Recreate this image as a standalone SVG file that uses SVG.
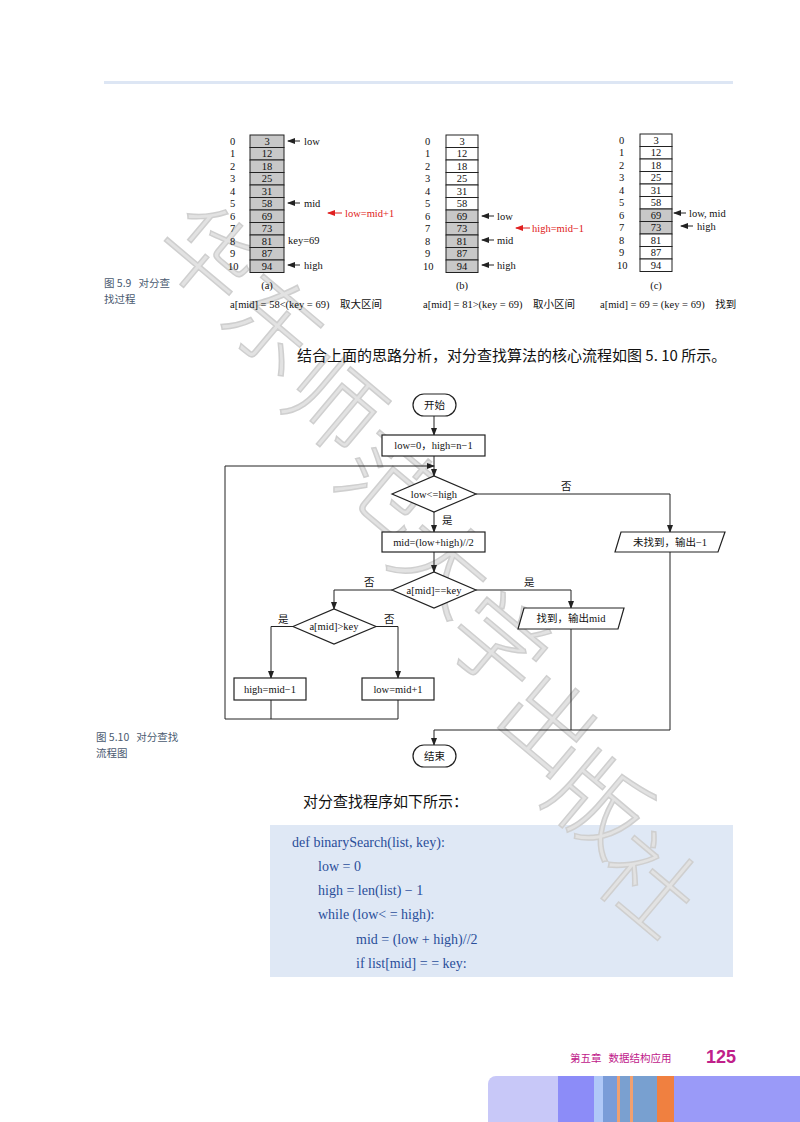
<svg xmlns="http://www.w3.org/2000/svg" width="800" height="1122" viewBox="0 0 800 1122">
<style>
text{white-space:pre}
.s{font-family:"Liberation Serif","Noto Sans CJK SC",serif;font-size:10.5px;fill:#111}
.c{font-family:"Liberation Serif","Noto Sans CJK SC",serif;font-size:10.5px;fill:#111;text-anchor:middle}
.red{fill:#e02020}
.ln{stroke:#222;stroke-width:1;fill:none}
.nd{stroke:#222;stroke-width:1.2;fill:#fff}
.g{fill:#c8c8c8}
.w{fill:#fff}
.side{font-family:"Noto Sans CJK SC",sans-serif;font-size:10.5px;fill:#4a5a70}
.code{font-family:"Liberation Serif","Noto Sans CJK SC",serif;font-size:14px;fill:#2a4e9a}
.wm{font-family:"Noto Sans CJK SC",sans-serif;font-size:95px;font-weight:300;fill:#e2e2e2;stroke:#cfcfcf;stroke-width:1.5}
</style>
<defs>
<marker id="a" markerWidth="8" markerHeight="6" refX="7" refY="3" orient="auto" markerUnits="userSpaceOnUse"><path d="M0,0L8,3L0,6z" fill="#222"/></marker>
<marker id="ar" markerWidth="8" markerHeight="6" refX="7" refY="3" orient="auto" markerUnits="userSpaceOnUse"><path d="M0,0L8,3L0,6z" fill="#e02020"/></marker>
</defs>
<rect x="104" y="81" width="629" height="3" fill="#dde6f4"/>
<rect x="270" y="825" width="463" height="152" fill="#dfe8f5"/>

<g class="wm">
<text transform="translate(150,250) rotate(40)">华</text>
<text transform="translate(215,320) rotate(40)">东</text>
<text transform="translate(275,400) rotate(40)">师</text>
<text transform="translate(330,480) rotate(40)">范</text>
<text transform="translate(385,560) rotate(40)">大</text>
<text transform="translate(440,640) rotate(40)">学</text>
<text transform="translate(490,720) rotate(40)">出</text>
<text transform="translate(540,800) rotate(40)">版</text>
<text transform="translate(590,880) rotate(40)">社</text>
</g>

<!-- array (a) -->
<g id="arrA">
<g class="s"><text x="230" y="145">0</text><text x="230" y="157">1</text><text x="230" y="170">2</text><text x="230" y="182">3</text><text x="230" y="195">4</text><text x="230" y="207">5</text><text x="230" y="220">6</text><text x="230" y="232">7</text><text x="230" y="245">8</text><text x="230" y="257">9</text><text x="228" y="270">10</text></g>
<g stroke="#222" stroke-width="1">
<rect x="250" y="135" width="34" height="12.5" class="g"/><rect x="250" y="147.5" width="34" height="12.5" class="g"/><rect x="250" y="160" width="34" height="12.5" class="g"/><rect x="250" y="172.5" width="34" height="12.5" class="g"/><rect x="250" y="185" width="34" height="12.5" class="g"/><rect x="250" y="197.5" width="34" height="12.5" class="g"/><rect x="250" y="210" width="34" height="12.5" class="g"/><rect x="250" y="222.5" width="34" height="12.5" class="g"/><rect x="250" y="235" width="34" height="12.5" class="g"/><rect x="250" y="247.5" width="34" height="12.5" class="g"/><rect x="250" y="260" width="34" height="12.5" class="g"/>
</g>
<g class="c"><text x="267" y="145">3</text><text x="267" y="157">12</text><text x="267" y="170">18</text><text x="267" y="182">25</text><text x="267" y="195">31</text><text x="267" y="207">58</text><text x="267" y="220">69</text><text x="267" y="232">73</text><text x="267" y="245">81</text><text x="267" y="257">87</text><text x="267" y="270">94</text></g>
<line x1="300" y1="141" x2="288" y2="141" class="ln" marker-end="url(#a)"/><text x="304" y="145" class="s">low</text>
<line x1="300" y1="203" x2="288" y2="203" class="ln" marker-end="url(#a)"/><text x="304" y="207" class="s">mid</text>
<line x1="342" y1="213" x2="328" y2="213" stroke="#e02020" marker-end="url(#ar)"/><text x="345" y="217" class="s red">low=mid+1</text>
<text x="288" y="244" class="s">key=69</text>
<line x1="300" y1="265" x2="288" y2="265" class="ln" marker-end="url(#a)"/><text x="304" y="269" class="s">high</text>
<text x="267" y="289" class="c">(a)</text>
<text x="230" y="308" class="s">a[mid] = 58&lt;(key = 69)    取大区间</text>
</g>

<!-- array (b) -->
<g id="arrB">
<g class="s"><text x="425" y="145">0</text><text x="425" y="157">1</text><text x="425" y="170">2</text><text x="425" y="182">3</text><text x="425" y="195">4</text><text x="425" y="207">5</text><text x="425" y="220">6</text><text x="425" y="232">7</text><text x="425" y="245">8</text><text x="425" y="257">9</text><text x="423" y="270">10</text></g>
<g stroke="#222" stroke-width="1">
<rect x="446" y="135" width="32" height="12.5" class="w"/><rect x="446" y="147.5" width="32" height="12.5" class="w"/><rect x="446" y="160" width="32" height="12.5" class="w"/><rect x="446" y="172.5" width="32" height="12.5" class="w"/><rect x="446" y="185" width="32" height="12.5" class="w"/><rect x="446" y="197.5" width="32" height="12.5" class="w"/><rect x="446" y="210" width="32" height="12.5" class="g"/><rect x="446" y="222.5" width="32" height="12.5" class="g"/><rect x="446" y="235" width="32" height="12.5" class="g"/><rect x="446" y="247.5" width="32" height="12.5" class="g"/><rect x="446" y="260" width="32" height="12.5" class="g"/>
</g>
<g class="c"><text x="462" y="145">3</text><text x="462" y="157">12</text><text x="462" y="170">18</text><text x="462" y="182">25</text><text x="462" y="195">31</text><text x="462" y="207">58</text><text x="462" y="220">69</text><text x="462" y="232">73</text><text x="462" y="245">81</text><text x="462" y="257">87</text><text x="462" y="270">94</text></g>
<line x1="494" y1="216" x2="482" y2="216" class="ln" marker-end="url(#a)"/><text x="497" y="220" class="s">low</text>
<line x1="530" y1="228" x2="516" y2="228" stroke="#e02020" marker-end="url(#ar)"/><text x="532" y="232" class="s red">high=mid−1</text>
<line x1="494" y1="240" x2="482" y2="240" class="ln" marker-end="url(#a)"/><text x="497" y="244" class="s">mid</text>
<line x1="494" y1="265" x2="482" y2="265" class="ln" marker-end="url(#a)"/><text x="497" y="269" class="s">high</text>
<text x="462" y="289" class="c">(b)</text>
<text x="423" y="308" class="s">a[mid] = 81&gt;(key = 69)    取小区间</text>
</g>

<!-- array (c) -->
<g id="arrC">
<g class="s"><text x="619" y="144">0</text><text x="619" y="156">1</text><text x="619" y="169">2</text><text x="619" y="181">3</text><text x="619" y="194">4</text><text x="619" y="206">5</text><text x="619" y="219">6</text><text x="619" y="231">7</text><text x="619" y="244">8</text><text x="619" y="256">9</text><text x="617" y="269">10</text></g>
<g stroke="#222" stroke-width="1">
<rect x="640" y="134" width="32" height="12.5" class="w"/><rect x="640" y="146.5" width="32" height="12.5" class="w"/><rect x="640" y="159" width="32" height="12.5" class="w"/><rect x="640" y="171.5" width="32" height="12.5" class="w"/><rect x="640" y="184" width="32" height="12.5" class="w"/><rect x="640" y="196.5" width="32" height="12.5" class="w"/><rect x="640" y="209" width="32" height="12.5" class="g"/><rect x="640" y="221.5" width="32" height="12.5" class="g"/><rect x="640" y="234" width="32" height="12.5" class="w"/><rect x="640" y="246.5" width="32" height="12.5" class="w"/><rect x="640" y="259" width="32" height="12.5" class="w"/>
</g>
<g class="c"><text x="656" y="144">3</text><text x="656" y="156">12</text><text x="656" y="169">18</text><text x="656" y="181">25</text><text x="656" y="194">31</text><text x="656" y="206">58</text><text x="656" y="219">69</text><text x="656" y="231">73</text><text x="656" y="244">81</text><text x="656" y="256">87</text><text x="656" y="269">94</text></g>
<line x1="686" y1="213" x2="674" y2="213" class="ln" marker-end="url(#a)"/><text x="689" y="217" class="s">low, mid</text>
<line x1="693" y1="226" x2="681" y2="226" class="ln" marker-end="url(#a)"/><text x="697" y="230" class="s">high</text>
<text x="656" y="289" class="c">(c)</text>
<text x="600" y="308" class="s">a[mid] = 69 = (key = 69)    找到</text>
</g>

<text x="104" y="287" class="side">图 5.9   对分查</text>
<text x="104" y="303" class="side">找过程</text>
<text x="297" y="361" font-family="Noto Sans CJK SC,sans-serif" font-size="15" fill="#111">结合上面的思路分析，对分查找算法的核心流程如图 5. 10 所示。</text>

<!-- flowchart connectors -->
<g id="connectors" class="ln">
<line x1="434" y1="416" x2="434" y2="435" marker-end="url(#a)"/>
<line x1="434" y1="456" x2="434" y2="476" marker-end="url(#a)"/>
<line x1="434" y1="512" x2="434" y2="532" marker-end="url(#a)"/>
<polyline points="476,494 670,494 670,532" marker-end="url(#a)"/>
<line x1="434" y1="552" x2="434" y2="572" marker-end="url(#a)"/>
<polyline points="392,590 334,590 334,609" marker-end="url(#a)"/>
<polyline points="476,590 571,590 571,608" marker-end="url(#a)"/>
<polyline points="293,626.5 271,626.5 271,678" marker-end="url(#a)"/>
<polyline points="376,626.5 398,626.5 398,678" marker-end="url(#a)"/>
<polyline points="271,700 271,719"/>
<polyline points="398,700 398,719 225,719 225,466 434,466" marker-end="url(#a)"/>
<polyline points="571,629 571,730"/>
<polyline points="670,552 670,730 434,730 434,745" marker-end="url(#a)"/>
</g>
<g class="s" font-size="10">
<text x="561" y="490">否</text><text x="442" y="524">是</text><text x="364" y="586">否</text><text x="524" y="586">是</text><text x="278" y="623">是</text><text x="384" y="623">否</text>
</g>
<g id="start"><rect x="413" y="394" width="43" height="22" rx="11" class="nd"/><text x="434.5" y="409" class="c">开始</text></g>
<g id="init"><rect x="382" y="435" width="103" height="21" class="nd"/><text x="433.5" y="449" class="c">low=0，high=n−1</text></g>
<g id="cond1"><polygon points="392,494 434,476 476,494 434,512" class="nd"/><text x="434" y="498" class="c">low&lt;=high</text></g>
<g id="calc"><rect x="382" y="532" width="103" height="20" class="nd"/><text x="433.5" y="546" class="c">mid=(low+high)//2</text></g>
<g id="notfound"><polygon points="621,532 725,532 718,552 615,552" class="nd"/><text x="670" y="546" class="c">未找到，输出−1</text></g>
<g id="cond2"><polygon points="392,590 434,572 476,590 434,608" class="nd"/><text x="434" y="594" class="c">a[mid]==key</text></g>
<g id="found"><polygon points="524,608 624,608 618,629 518,629" class="nd"/><text x="571" y="622" class="c">找到，输出mid</text></g>
<g id="cond3"><polygon points="293,626.5 334,609 376,626.5 334,644" class="nd"/><text x="334" y="630" class="c">a[mid]&gt;key</text></g>
<g id="highbox"><rect x="234" y="678" width="72" height="22" class="nd"/><text x="270" y="693" class="c">high=mid−1</text></g>
<g id="lowbox"><rect x="362" y="678" width="72" height="22" class="nd"/><text x="398" y="693" class="c">low=mid+1</text></g>
<g id="end"><rect x="413" y="745" width="43" height="22" rx="11" class="nd"/><text x="434.5" y="760" class="c">结束</text></g>

<text x="96" y="741" class="side">图 5.10   对分查找</text>
<text x="96" y="757" class="side">流程图</text>
<text x="303" y="807" font-family="Noto Sans CJK SC,sans-serif" font-size="15" fill="#111">对分查找程序如下所示：</text>

<g class="code">
<text x="292" y="847">def binarySearch(list, key):</text>
<text x="318" y="871">low = 0</text>
<text x="318" y="895">high = len(list) − 1</text>
<text x="318" y="919">while (low&lt; = high):</text>
<text x="356" y="944">mid = (low + high)//2</text>
<text x="356" y="968">if list[mid] = = key:</text>
</g>

<text x="570" y="1062" font-family="Noto Sans CJK SC,sans-serif" font-size="10.5" fill="#c0208a">第五章   数据结构应用</text>
<text x="706" y="1063" font-family="Liberation Sans,sans-serif" font-size="18" font-weight="bold" fill="#c0208a">125</text>
<path d="M496,1076H558V1122H488V1084A8,8 0 0 1 496,1076z" fill="#c8c8f8"/>
<rect x="558" y="1076" width="36" height="46" fill="#8c8cf8"/>
<rect x="594" y="1076" width="9" height="46" fill="#b0c8f8"/>
<rect x="603" y="1076" width="14" height="46" fill="#7a9cd8"/>
<rect x="617" y="1076" width="3" height="46" fill="#f0a070"/>
<rect x="620" y="1076" width="10" height="46" fill="#7aa0d0"/>
<rect x="630" y="1076" width="3" height="46" fill="#f0a070"/>
<rect x="633" y="1076" width="24" height="46" fill="#78a0d0"/>
<rect x="657" y="1076" width="17" height="46" fill="#f08040"/>
<rect x="674" y="1076" width="126" height="46" fill="#9a9af8"/>
</svg>
